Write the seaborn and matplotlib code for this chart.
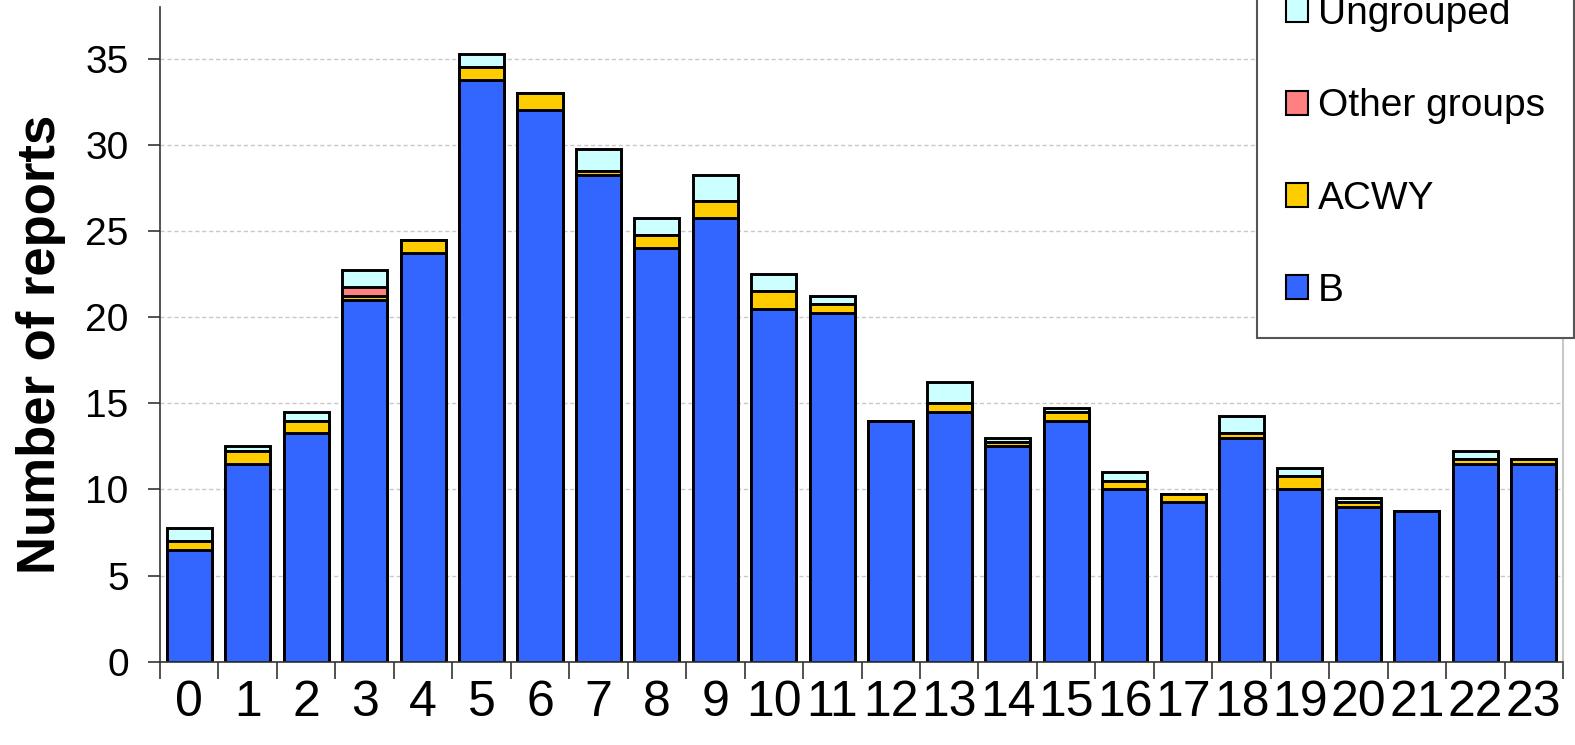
"""
Stacked bar chart: number of reports by hour, split by serogroup.
"""
import matplotlib
matplotlib.use("Agg")
import matplotlib.pyplot as plt
import matplotlib.patches as mpatches
import numpy as np
import pandas as pd
import seaborn as sns

# data
hours = [str(h) for h in range(24)]
group_b = [6.5, 11.5, 13.25, 21.0, 23.75, 33.75, 32.0, 28.25, 24.0, 25.75, 20.5, 20.25,
           14.0, 14.5, 12.5, 14.0, 10.0, 9.25, 13.0, 10.0, 9.0, 8.75, 11.5, 11.5]
group_acwy = [0.5, 0.75, 0.75, 0.25, 0.75, 0.75, 1.0, 0.25, 0.75, 1.0, 1.0, 0.5,
              0.0, 0.5, 0.25, 0.5, 0.5, 0.5, 0.25, 0.75, 0.25, 0.0, 0.25, 0.25]
group_other = [0.0, 0.0, 0.0, 0.5, 0.0, 0.0, 0.0, 0.0, 0.0, 0.0, 0.0, 0.0,
               0.0, 0.0, 0.0, 0.0, 0.0, 0.0, 0.0, 0.0, 0.0, 0.0, 0.0, 0.0]
group_ungrouped = [0.75, 0.25, 0.5, 1.0, 0.0, 0.75, 0.0, 1.25, 1.0, 1.5, 1.0, 0.5,
                   0.0, 1.25, 0.25, 0.25, 0.5, 0.0, 1.0, 0.5, 0.25, 0.0, 0.5, 0.0]

series_names = ["B", "ACWY", "Other groups", "Ungrouped"]
series_colors = ["#3366FF", "#FFCC00", "#FF8080", "#CCFFFF"]


def setup_plotting():
    """Configure seaborn / matplotlib look"""
    sns.set_style("white")
    plt.rcParams['font.family'] = ['Liberation Sans', 'DejaVu Sans']
    plt.rcParams['text.color'] = 'black'
    plt.rcParams['axes.labelcolor'] = 'black'
    plt.rcParams['xtick.color'] = 'black'
    plt.rcParams['ytick.color'] = 'black'


def build_frame():
    """Cumulative heights, so every layer can be drawn from zero"""
    df = pd.DataFrame({
        "hour": hours,
        "B": group_b,
        "ACWY": group_acwy,
        "Other groups": group_other,
        "Ungrouped": group_ungrouped,
    })
    running = np.zeros(len(df))
    for name in series_names:
        running = running + df[name].to_numpy()
        df[name + "_cum"] = running
    return df


def main():
    setup_plotting()
    df = build_frame()

    fig = plt.figure(figsize=(15.75, 7.45), dpi=100)
    ax = fig.add_axes([0.1016, 0.1118, 0.8908, 0.8788])

    # tallest layer first, each lower layer painted over it
    for name, color in reversed(list(zip(series_names, series_colors))):
        sns.barplot(data=df, x="hour", y=name + "_cum", order=hours, color=color,
                    saturation=1, width=0.77, edgecolor="black", linewidth=2.1,
                    errorbar=None, ax=ax)

    ax.set_xlim(-0.5, 23.5)
    ax.set_ylim(0, 38)
    ax.set_yticks(range(0, 36, 5))
    ax.set_axisbelow(True)
    ax.yaxis.grid(True, linestyle=(0, (3, 2)), color="#c8c8c8", linewidth=1)
    ax.xaxis.grid(False)

    # ticks between the bars, labels under them
    ax.set_xticks(np.arange(-0.5, 24, 1), minor=True)
    ax.tick_params(axis="x", which="both", bottom=True)
    ax.tick_params(axis="x", which="major", length=0, pad=13, labelsize=36)
    ax.tick_params(axis="x", which="minor", length=12, width=1.2,
                   color="#333333", direction="out")
    ax.tick_params(axis="y", left=True, length=8.6, width=1.2, color="#333333",
                   labelcolor="black", direction="out", pad=14, labelsize=28)

    ax.set_xlabel("")
    ax.set_ylabel("Number of reports", fontsize=38, fontweight="bold", color="black")
    ax.yaxis.set_label_coords(-0.067, 0.484)

    for side in ["left", "bottom"]:
        ax.spines[side].set_color("#333333")
        ax.spines[side].set_linewidth(1.2)
    ax.spines["top"].set_visible(False)
    ax.spines["right"].set_color("#c8c8c8")
    ax.spines["right"].set_linewidth(1.5)

    handles = [mpatches.Patch(facecolor=c, edgecolor="black", linewidth=1.5, label=n)
               for n, c in zip(series_names, series_colors)][::-1]
    leg = fig.legend(handles=handles, loc="lower right",
                     bbox_to_anchor=(0.9995, 0.546), borderaxespad=0, fontsize=28,
                     frameon=True, fancybox=False, framealpha=1,
                     handlelength=0.57, handleheight=0.57, handletextpad=0.26,
                     labelspacing=1.45, borderpad=0.75)
    leg.get_frame().set_edgecolor("#555555")
    leg.get_frame().set_linewidth(1.5)

    fig.savefig("out.png", dpi=100)
    plt.close(fig)


if __name__ == "__main__":
    main()
